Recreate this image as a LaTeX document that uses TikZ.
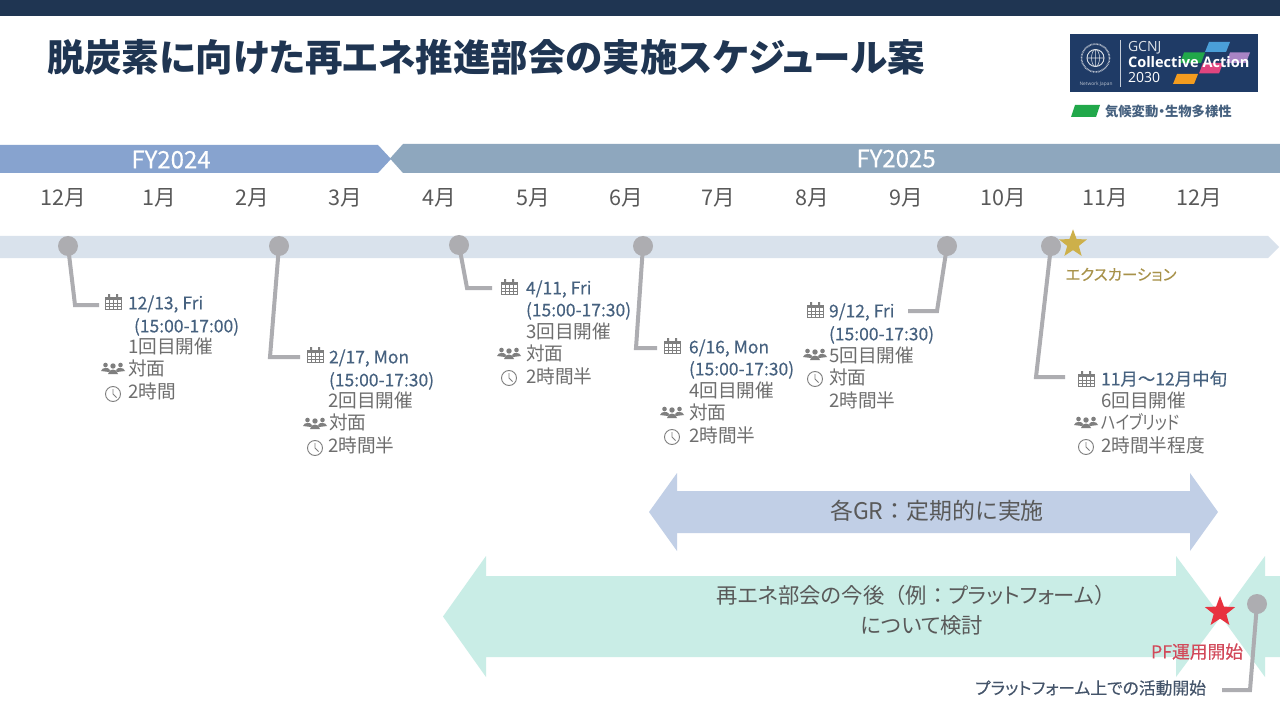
\documentclass[tikz,border=0pt]{standalone}
\usepackage{fontspec}
\setmainfont{Noto Sans CJK JP}
\newfontfamily\palt[RawFeature=+palt]{Noto Sans CJK JP}
\newfontfamily\medfont[FakeBold=0.25]{Noto Sans CJK JP}
\newfontfamily\medpalt[RawFeature=+palt,FakeBold=0.25]{Noto Sans CJK JP}
\newfontfamily\latinlogo{Open Sans}
\usetikzlibrary{shapes.geometric,calc}
\definecolor{navy}{HTML}{1F3552}
\definecolor{logonavy}{HTML}{1F3B66}
\definecolor{fyone}{HTML}{87A3CF}
\definecolor{fytwo}{HTML}{8EA7BE}
\definecolor{track}{HTML}{D9E2EC}
\definecolor{dotgray}{HTML}{ADADB1}
\definecolor{monthgray}{HTML}{595959}
\definecolor{bodygray}{HTML}{6E6E6E}
\definecolor{datecol}{HTML}{46617F}
\definecolor{bluearrow}{HTML}{C1CFE6}
\definecolor{greenarrow}{HTML}{C9EDE6}
\definecolor{goldstar}{HTML}{CDB04A}
\definecolor{goldtext}{HTML}{A8924A}
\definecolor{redstar}{HTML}{E8323F}
\definecolor{redtext}{HTML}{D2495A}
\definecolor{slatetext}{HTML}{44546A}
\definecolor{icongray}{HTML}{7F7F7F}
\definecolor{tileblue}{HTML}{4A9FD8}
\definecolor{tilegreen}{HTML}{21A84A}
\definecolor{tilepurple}{HTML}{A884C4}
\definecolor{tilepink}{HTML}{E0457F}
\definecolor{tileorange}{HTML}{F39C1F}
\newcommand{\fsz}[1]{\fontsize{#1}{#1}\selectfont}
\tikzset{
  x=0.75pt,y=-0.75pt,
  txt/.style={inner sep=0pt,outer sep=0pt,text height=0.95em,text depth=0pt},
  dateline/.style={txt,anchor=west,text=datecol,font=\medfont\fsz{13.1}},
  bodyline/.style={txt,anchor=west,text=bodygray,font=\palt\fsz{14}},
  month/.style={txt,text=monthgray,font=\fsz{16.2}},
  fylabel/.style={txt,text=white,font=\medfont\fsz{18}},
  banner/.style={txt,align=center,text=monthgray,font=\palt\fsz{16}},
  dot/.style={circle,fill=dotgray,inner sep=0pt,minimum size=15pt},
  conn/.style={draw=dotgray,line width=3pt,line join=miter},
  pentastar/.style={star,star points=5,star point ratio=2.4,inner sep=0pt,draw=none},
  calicon/.pic={
    \draw[icongray,line width=0.55pt] (-8,-5) rectangle (8,7);
    \fill[icongray] (-8,-5) rectangle (8,-2);
    \fill[icongray] (-5,-8) rectangle (-3,-4) (3,-8) rectangle (5,-4);
    \draw[icongray,line width=0.45pt] (-8,1) -- (8,1) (-8,4) -- (8,4) (-4,-2) -- (-4,7) (0,-2) -- (0,7) (4,-2) -- (4,7);
  },
  peopleicon/.pic={
    \fill[icongray] (-7.5,-3) circle (2.3) (7.5,-3) circle (2.3) (0,-2) circle (2.7);
    \fill[icongray] (-12,3) .. controls (-11,-1) and (-4,-1) .. (-3,2) -- (-4,4) -- cycle;
    \fill[icongray] (12,3) .. controls (11,-1) and (4,-1) .. (3,2) -- (4,4) -- cycle;
    \fill[icongray] (-5,6) .. controls (-4,0) and (4,0) .. (5,6) -- cycle;
  },
  clockicon/.pic={
    \draw[icongray,line width=0.7pt] (0,0) circle (7.5);
    \draw[icongray,line width=0.7pt] (0,-5) -- (0,0) -- (3.5,3.5);
  }
}
\begin{document}
\begin{tikzpicture}
\useasboundingbox (0,0) rectangle (1280,720);
\fill[white] (0,0) rectangle (1280,720);
% top band and title
\fill[navy] (0,0) rectangle (1280,16);
\node[txt,anchor=west,text=navy,font=\palt\fsz{28.1}\bfseries] (title) at (47,65) {脱炭素に向けた再エネ推進部会の実施スケジュール案};
% logo
\fill[logonavy] (1070,34) rectangle (1258,92);
\draw[white!75!logonavy,line width=0.5pt] (1120.5,40) -- (1120.5,87);
\draw[white!85!logonavy,line width=0.7pt] (1095.5,58) circle (8.5);
\draw[white!85!logonavy,line width=0.4pt] (1087,58) -- (1104,58) (1095.5,49.5) -- (1095.5,66.5) (1095.5,58) ellipse (4 and 8.5);
\draw[white!65!logonavy,line width=1.2pt,dash pattern=on 0.6pt off 0.5pt] (1095.5,58) circle (14);
\node[txt,text=white!70!logonavy,font=\latinlogo\fsz{3.6}] (netjapan) at (1096,79) {Network Japan};
\fill[tileblue] (1209,42) -- (1230,42) -- (1226,52) -- (1205,52) -- cycle;
\fill[tilegreen] (1184,52.5) -- (1205,52.5) -- (1201,63) -- (1180,63) -- cycle;
\fill[tilepurple] (1230,52.5) -- (1250,52.5) -- (1246,63) -- (1226,63) -- cycle;
\fill[tilepink] (1203,63) -- (1223,63) -- (1219,73.5) -- (1199,73.5) -- cycle;
\fill[tileorange] (1177,74) -- (1198,74) -- (1194,84) -- (1173,84) -- cycle;
\node[txt,anchor=west,text=white!85!logonavy,font=\latinlogo\fsz{10.5}] (gcnj) at (1128,45.5) {GCNJ};
\node[txt,anchor=west,text=white,font=\latinlogo\bfseries\fsz{10.9}] (collective) at (1128,61) {Collective Action};
\node[txt,anchor=west,text=white,font=\latinlogo\fsz{10.5}] (yr) at (1128,76.5) {2030};
\fill[tilegreen] (1075,105) -- (1100,105) -- (1096,117) -- (1071,117) -- cycle;
\node[txt,anchor=west,text=datecol,font=\palt\fsz{10}\bfseries] (theme) at (1105,110) {気候変動・生物多様性};
% FY bars
\fill[fyone] (0,145) -- (378,145) -- (391,159) -- (378,173) -- (0,173) -- cycle;
\fill[fytwo] (1280,144) -- (403,144) -- (390,158.5) -- (403,173) -- (1280,173) -- cycle;
\node[fylabel] (fya) at (171,162) {FY2024};
\node[fylabel] (fyb) at (896,161) {FY2025};
% months
\node[month] (m1) at (63,199) {12月};
\node[month] (m2) at (159,199) {1月};
\node[month] (m3) at (252,199) {2月};
\node[month] (m4) at (345,199) {3月};
\node[month] (m5) at (439,199) {4月};
\node[month] (m6) at (533,199) {5月};
\node[month] (m7) at (626,199) {6月};
\node[month] (m8) at (718,199) {7月};
\node[month] (m9) at (812,199) {8月};
\node[month] (m10) at (906,199) {9月};
\node[month] (m11) at (1003,199) {10月};
\node[month] (m12) at (1105,199) {11月};
\node[month] (m13) at (1199,199) {12月};
% timeline track
\fill[track] (0,236) -- (1268,236) -- (1279,247) -- (1268,258) -- (0,258) -- cycle;
% banner arrows
\fill[bluearrow] (649,512) -- (677,473) -- (677,491) -- (1190,491) -- (1190,473) -- (1218,512) -- (1190,551) -- (1190,533) -- (677,533) -- (677,551) -- cycle;
\node[banner,font=\fsz{17.2}] (gr) at (937,513) {各GR：定期的に実施};
\fill[greenarrow] (443,616.5) -- (486,556) -- (486,576) -- (1176,576) -- (1176,556) -- (1221,616.5) -- (1176,677) -- (1176,657) -- (486,657) -- (486,677) -- cycle;
\fill[greenarrow] (1221,616.5) -- (1265,556) -- (1265,576) -- (1280,576) -- (1280,657) -- (1265,657) -- (1265,677) -- cycle;
\node[banner] (re1) at (916,597) {再エネ部会の今後{\rmfamily（例：}プラットフォーム{\rmfamily ）}};
\node[banner] (re2) at (922,627) {について検討};
% dots and connectors
\node[dot] (d1) at (68,246) {};
\node[dot] (d2) at (279,246) {};
\node[dot] (d3) at (459,245) {};
\node[dot] (d4) at (643,246) {};
\node[dot] (d5) at (947,246) {};
\node[dot] (d6) at (1051,246) {};
\node[dot] (d7) at (1257,604) {};
\coordinate (e1) at (75,305); \coordinate (f1) at (99,305);
\coordinate (e2) at (270,357); \coordinate (f2) at (300,357);
\coordinate (e3) at (467,288); \coordinate (f3) at (492,288);
\coordinate (e4) at (636,348); \coordinate (f4) at (657,348);
\coordinate (e5) at (937,311); \coordinate (f5) at (908,311);
\coordinate (e6) at (1036,377); \coordinate (f6) at (1065,377);
\coordinate (e7) at (1250,690); \coordinate (f7) at (1222,690);
\draw[conn] (d1.center) -- (e1) -- (f1);
\draw[conn] (d2.center) -- (e2) -- (f2);
\draw[conn] (d3.center) -- (e3) -- (f3);
\draw[conn] (d4.center) -- (e4) -- (f4);
\draw[conn] (d5.center) -- (e5) -- (f5);
\draw[conn] (d6.center) -- (e6) -- (f6);
\draw[conn] (d7.center) -- (e7) -- (f7);
% stars
\node[pentastar,fill=goldstar,minimum size=22pt] (goldst) at (1073,244) {};
\node[txt,text=goldtext,font=\medpalt\fsz{11.6}] (excursion) at (1121,274) {エクスカーション};
\node[pentastar,fill=redstar,minimum size=24pt] (redst) at (1220,612) {};
\node[txt,text=redtext,font=\medfont\fsz{13.3}] (pfstart) at (1197,652) {PF運用開始};
\node[txt,anchor=east,text=slatetext,font=\medpalt\fsz{12.6}] (pfact) at (1206,688) {プラットフォーム上での活動開始};
% block 1
\pic at (113,302) {calicon}; \pic at (113,368) {peopleicon}; \pic at (113,394) {clockicon};
\node[dateline] (a1) at (128,303) {12/13, Fri};
\node[dateline] (a2) at (134,326) {(15:00-17:00)};
\node[bodyline] (a3) at (128,347) {1回目開催};
\node[bodyline] (a4) at (128,369) {対面};
\node[bodyline] (a5) at (128,392) {2時間};
% block 2
\pic at (315,355) {calicon}; \pic at (315,423) {peopleicon}; \pic at (315,448) {clockicon};
\node[dateline] (b1) at (329,357) {2/17, Mon};
\node[dateline] (b2) at (329,380) {(15:00-17:30)};
\node[bodyline] (b3) at (328,401) {2回目開催};
\node[bodyline] (b4) at (329,423) {対面};
\node[bodyline] (b5) at (328,446) {2時間半};
% block 3
\pic at (509,287) {calicon}; \pic at (509,353) {peopleicon}; \pic at (509,378) {clockicon};
\node[dateline] (c1) at (526,288) {4/11, Fri};
\node[dateline] (c2) at (526,310) {(15:00-17:30)};
\node[bodyline] (c3) at (526,332) {3回目開催};
\node[bodyline] (c4) at (526,354) {対面};
\node[bodyline] (c5) at (526,377) {2時間半};
% block 4
\pic at (672,346) {calicon}; \pic at (672,412) {peopleicon}; \pic at (672,437) {clockicon};
\node[dateline] (g1) at (689,347) {6/16, Mon};
\node[dateline] (g2) at (689,369) {(15:00-17:30)};
\node[bodyline] (g3) at (689,391) {4回目開催};
\node[bodyline] (g4) at (689,413) {対面};
\node[bodyline] (g5) at (689,436) {2時間半};
% block 5
\pic at (815,310) {calicon}; \pic at (815,354) {peopleicon}; \pic at (815,379) {clockicon};
\node[dateline] (h1) at (829,311) {9/12, Fri};
\node[dateline] (h2) at (829,334) {(15:00-17:30)};
\node[bodyline] (h3) at (829,356) {5回目開催};
\node[bodyline] (h4) at (829,378) {対面};
\node[bodyline] (h5) at (829,401) {2時間半};
% block 6
\pic at (1086,379) {calicon}; \pic at (1086,422) {peopleicon}; \pic at (1086,447) {clockicon};
\node[dateline] (k1) at (1101,379) {11月～12月中旬};
\node[bodyline] (k3) at (1101,401) {6回目開催};
\node[bodyline] (k4) at (1101,423) {\scalebox{0.83}[1]{ハイブリッド}};
\node[bodyline] (k5) at (1101,446) {2時間半程度};
\end{tikzpicture}
\end{document}
